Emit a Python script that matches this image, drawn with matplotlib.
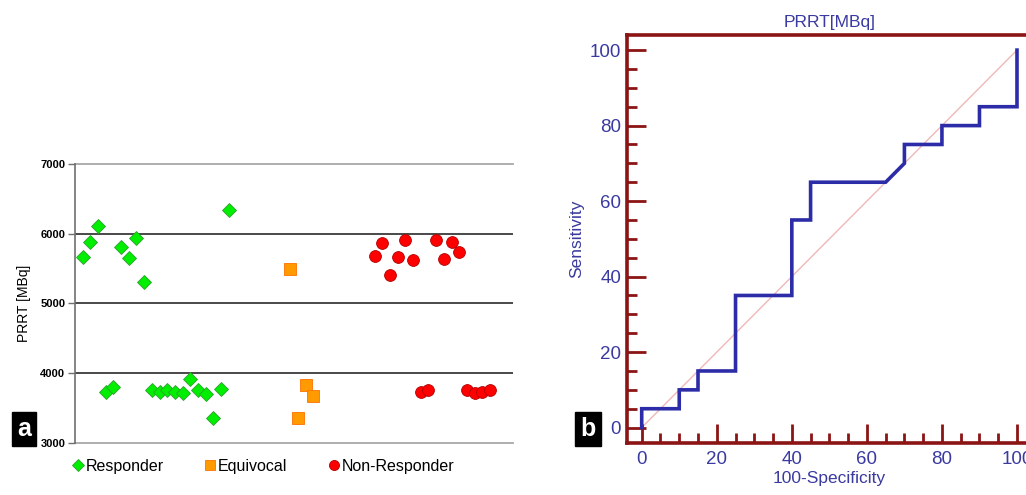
import matplotlib
matplotlib.use("Agg")
import matplotlib.pyplot as plt
from matplotlib.ticker import MultipleLocator

plt.rcParams['font.family'] = ['Liberation Sans', 'DejaVu Sans']

# ---- Panel a data (x = case position, y = PRRT activity in MBq) ----
responder_x = [1, 2, 3, 4, 5, 6, 7, 8, 9, 10, 11, 12, 13, 14, 15, 16, 17, 18, 19, 20]
responder_y = [5660, 5875, 6105, 3725, 3805, 5805, 5655, 5945, 5305, 3760,
               3725, 3760, 3725, 3710, 3915, 3760, 3705, 3355, 3780, 6345]
equivocal_x = [28, 29, 30, 31]
equivocal_y = [5495, 3360, 3830, 3670]
nonresp_x = [39, 40, 41, 42, 43, 44, 45, 46, 47, 48, 49, 50, 51, 52, 53, 54]
nonresp_y = [5675, 5865, 5415, 5660, 5905, 5630, 3735, 3760, 5915, 5640,
             5880, 5745, 3760, 3715, 3725, 3760]
a_yticks = [3000, 4000, 5000, 6000, 7000]

# ---- Panel b data (ROC curve) ----
roc_fpr = [0, 0, 10, 10, 15, 15, 25, 25, 40, 40, 45, 45, 65, 70, 70, 80, 80, 90, 90, 100, 100]
roc_tpr = [0, 5, 5, 10, 10, 15, 15, 35, 35, 55, 55, 65, 65, 70, 75, 75, 80, 80, 85, 85, 100]
b_ticks = [0, 20, 40, 60, 80, 100]

W, H = 1026, 495
fig = plt.figure(figsize=(W / 100, H / 100), dpi=100)

def frac(x0, y0, x1, y1):
    return [x0 / W, 1 - y1 / H, (x1 - x0) / W, (y1 - y0) / H]

# ================= Panel a =================
ax = fig.add_axes(frac(75, 164, 513, 443))
ax.set_xlim(0, 57)
ax.set_ylim(3000, 7000)
for v in [4000, 5000, 6000]:
    ax.axhline(v, color='#3a3a3a', lw=1.3, zorder=1)
for s in ['top', 'bottom', 'right']:
    ax.spines[s].set_visible(False)
ax.axhline(7000, color='#a8a8a8', lw=1.3, zorder=1, clip_on=False)
ax.axhline(3000, color='#a8a8a8', lw=1.3, zorder=1, clip_on=False)
ax.spines['left'].set_color('#707070')
ax.spines['left'].set_linewidth(1.2)
ax.set_xticks([])
ax.set_yticks(a_yticks)
ax.set_yticklabels([str(t) for t in a_yticks], fontsize=8, fontweight='bold')
ax.tick_params(axis='y', length=5, width=1, color='#707070', pad=2)
ax.set_ylabel('PRRT [MBq]', fontsize=10, labelpad=7)

ax.plot(responder_x, responder_y, linestyle='none', marker='D', ms=7,
        mfc='#00ee00', mec='#30a030', mew=0.6, zorder=3, label='Responder')
ax.plot(equivocal_x, equivocal_y, linestyle='none', marker='s', ms=8,
        mfc='#ff9a00', mec='#ff7000', mew=0.6, zorder=3, label='Equivocal')
ax.plot(nonresp_x, nonresp_y, linestyle='none', marker='o', ms=8.5,
        mfc='#ff0000', mec='#b00000', mew=0.6, zorder=3, label='Non-Responder')

leg = fig.legend(handles=ax.get_lines()[-3:], loc='center left',
                 bbox_to_anchor=(65 / W, 1 - 466 / H), ncol=3, frameon=False,
                 fontsize=11.5, handlelength=0.6, handletextpad=0.2,
                 columnspacing=2.6, markerscale=0.85, borderpad=0)

fig.text(24 / W, 1 - 428.5 / H, 'a', color='white', fontsize=18, fontweight='bold',
         ha='center', va='center',
         bbox=dict(boxstyle='square,pad=0.2', fc='black', ec='black'))

# ================= Panel b =================
dark_red = '#8b1414'
blue = '#3a3aa0'
bx = fig.add_axes(frac(626.7, 35, 1032, 442.7))
bx.set_xlim(-4, 104)
bx.set_ylim(-4, 104)
for s in bx.spines.values():
    s.set_color(dark_red)
    s.set_linewidth(2.6)
bx.plot([0, 100], [0, 100], color='#f0b8b8', lw=1, zorder=1)
bx.plot(roc_fpr, roc_tpr, color='#2c2ca8', lw=2.6, zorder=2, solid_joinstyle='miter')
bx.set_xticks(b_ticks)
bx.set_yticks(b_ticks)
bx.xaxis.set_minor_locator(MultipleLocator(5))
bx.yaxis.set_minor_locator(MultipleLocator(5))
bx.tick_params(which='major', direction='in', length=14, width=2, color=dark_red,
               labelsize=13.5, labelcolor=blue, pad=6)
bx.tick_params(which='minor', direction='in', length=7, width=2, color=dark_red)
bx.tick_params(axis='y', which='major', pad=4)
bx.set_title('PRRT[MBq]', color=blue, fontsize=12.5, pad=6)
bx.set_xlabel('100-Specificity', color=blue, fontsize=12.5, labelpad=2)
bx.set_ylabel('Sensitivity', color=blue, fontsize=12.5, labelpad=4)

fig.text(588 / W, 1 - 428.5 / H, 'b', color='white', fontsize=18, fontweight='bold',
         ha='center', va='center',
         bbox=dict(boxstyle='square,pad=0.2', fc='black', ec='black'))

fig.savefig('out.png', dpi=100)
